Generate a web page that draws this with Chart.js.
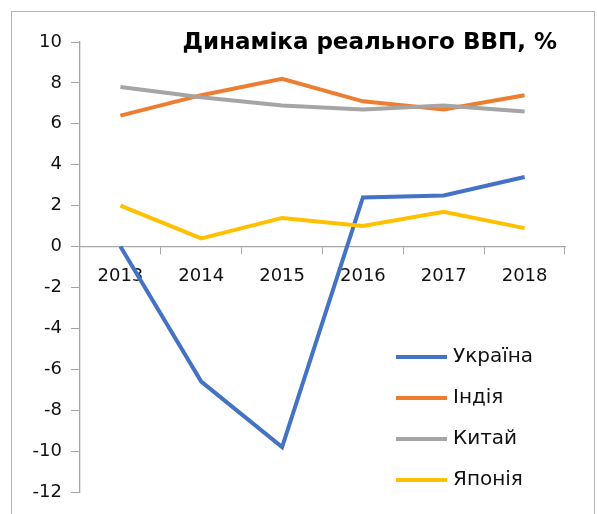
<!DOCTYPE html>
<html lang="uk">
<head>
<meta charset="UTF-8">
<title>Динаміка реального ВВП, %</title>
<style>
  html, body { margin: 0; padding: 0; background: #fff; }
  body { width: 597px; height: 514px; overflow: hidden; position: relative; }
  .frame { position: absolute; left: 11px; top: 11px; width: 582px; height: 540px; border: 1.5px solid #b4b4b4; }
  #chart { position: absolute; left: 0; top: 0; }
</style>
<script src="https://cdn.jsdelivr.net/npm/chart.js@4.4.1/dist/chart.umd.min.js"></script>
</head>
<body>
<div class="frame"></div>
<canvas id="chart" width="597" height="514"></canvas>
<script>
// дані
const years = ['2013', '2014', '2015', '2016', '2017', '2018'];
const ukraine = [0, -6.6, -9.8, 2.4, 2.5, 3.4];
const india = [6.4, 7.4, 8.2, 7.1, 6.7, 7.4];
const china = [7.8, 7.3, 6.9, 6.7, 6.9, 6.6];
const japan = [2.0, 0.4, 1.4, 1.0, 1.7, 0.9];
const seriesNames = ['Україна', 'Індія', 'Китай', 'Японія'];
const seriesColors = ['#4472C4', '#ED7D31', '#A5A5A5', '#FFC000'];
const chartTitle = 'Динаміка реального ВВП, %';

const FONT = '"DejaVu Sans", "Open Sans", sans-serif';
const axisGray = '#a6a6a6';

// заголовок і легенда всередині області графіка
const insidePlugin = {
  id: 'inside',
  afterDraw(chart) {
    const ctx = chart.ctx;
    ctx.save();
    ctx.fillStyle = '#000';
    ctx.font = 'bold 23px ' + FONT;
    ctx.textAlign = 'right';
    ctx.textBaseline = 'middle';
    ctx.fillText(chartTitle, 557, 43);

    ctx.font = '20px ' + FONT;
    ctx.textAlign = 'left';
    chart.data.datasets.forEach((ds, i) => {
      const y = 357 + i * 41;
      ctx.strokeStyle = ds.borderColor;
      ctx.lineWidth = 4;
      ctx.beginPath();
      ctx.moveTo(396, y);
      ctx.lineTo(447, y);
      ctx.stroke();
      ctx.fillStyle = '#111';
      ctx.fillText(ds.label, 453, y);
    });
    ctx.restore();
  }
};

const allData = [ukraine, india, china, japan];

new Chart(document.getElementById('chart'), {
  type: 'line',
  data: {
    labels: years,
    datasets: allData.map((d, i) => ({
      label: seriesNames[i],
      data: d,
      borderColor: seriesColors[i],
      backgroundColor: seriesColors[i],
      borderWidth: 4,
      pointRadius: 0,
      tension: 0,
      order: 3 - i
    }))
  },
  options: {
    responsive: false,
    animation: false,
    layout: { padding: { left: 0, top: 42, right: 32, bottom: 22 } },
    plugins: {
      legend: { display: false },
      title: { display: false },
      tooltip: { enabled: false }
    },
    scales: {
      x: {
        type: 'category',
        position: { y: 0 },
        offset: true,
        grid: { drawOnChartArea: false, offset: true, tickLength: 7, color: axisGray, lineWidth: 1 },
        border: { color: axisGray, width: 1.3 },
        ticks: { color: '#111', font: { family: FONT, size: 18 }, padding: 12, maxRotation: 0 }
      },
      y: {
        min: -12,
        max: 10,
        ticks: { stepSize: 2, color: '#111', font: { family: FONT, size: 18 }, padding: 9 },
        grid: { drawOnChartArea: false, tickLength: 9, color: axisGray, lineWidth: 1 },
        border: { color: axisGray, width: 1.3 },
        afterFit(scale) { scale.width = 80; }
      }
    }
  },
  plugins: [insidePlugin]
});
</script>
</body>
</html>
